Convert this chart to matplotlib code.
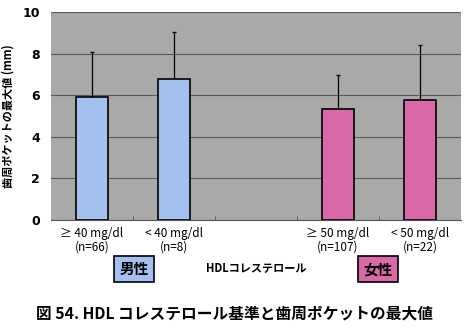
import matplotlib.pyplot as plt
import numpy as np

plt.rcParams['font.family'] = ['Noto Sans CJK JP', 'DejaVu Sans']

# HDL cholesterol groups (the middle slot separates men and women)
groups = ['≥ 40 mg/dl\n(n=66)', '< 40 mg/dl\n(n=8)', '',
          '≥ 50 mg/dl\n(n=107)', '< 50 mg/dl\n(n=22)']
means = [5.9, 6.76, np.nan, 5.32, 5.75]
sds = [2.19, 2.26, np.nan, 1.63, 2.68]
colors = ['#a3c0ee', '#a3c0ee', 'none', '#d96aa7', '#d96aa7']

fig = plt.figure(figsize=(4.75, 3.35), dpi=100)
ax = fig.add_axes([51 / 475, 1 - 220 / 335, 410 / 475, 208 / 335])
ax.set_facecolor('#a9aaa8')

x = np.arange(len(groups))
ax.bar(x, means, width=0.4, color=colors, edgecolor='black', linewidth=1.2, zorder=3)
# upper error bars only (lower cap sits under the bar top)
ax.errorbar(x, means, yerr=[np.zeros(len(sds)), sds], fmt='none',
            ecolor='black', elinewidth=0.9, capsize=1.5, capthick=1.0, zorder=2)

ax.set_xlim(-0.5, 4.5)
ax.set_ylim(0, 10)
ax.set_yticks([0, 2, 4, 6, 8, 10])
ax.set_yticklabels(['0', '2', '4', '6', '8', '10'], fontsize=9, fontweight='bold',
                   family=['DejaVu Sans'])
ax.yaxis.grid(True, color='#5a5a5a', linewidth=0.8, zorder=1)
ax.tick_params(axis='y', length=0, pad=8)
ax.set_xticks([0.5, 1.5, 2.5, 3.5], minor=True)
ax.set_xticks(x)
ax.set_xticklabels(groups, fontsize=8.5, linespacing=1.05)
ax.tick_params(axis='x', which='major', length=0, pad=5)
ax.tick_params(axis='x', which='minor', length=3, direction='in', color='#555555')
for s in ['top', 'right', 'left']:
    ax.spines[s].set_visible(False)
ax.spines['bottom'].set_color('#555555')

ax.set_ylabel('歯周ポケットの最大値 (mm)', fontsize=8, fontweight='bold', labelpad=6)

# sex boxes and group caption under the axis
fig.text(134 / 475, 1 - 269 / 335, '男性', fontsize=10.5, fontweight='bold',
         ha='center', va='center',
         bbox=dict(boxstyle='square,pad=0.35', facecolor='#a3c0ee', edgecolor='black', linewidth=1.2))
fig.text(378 / 475, 1 - 269 / 335, '女性', fontsize=10.5, fontweight='bold',
         ha='center', va='center',
         bbox=dict(boxstyle='square,pad=0.35', facecolor='#d96aa7', edgecolor='black', linewidth=1.2))
fig.text(256 / 475, 1 - 268 / 335, 'HDLコレステロール', fontsize=8, fontweight='bold',
         ha='center', va='center')

fig.text(234 / 475, 1 - 314 / 335, '図 54. HDL コレステロール基準と歯周ポケットの最大値',
         fontsize=11.3, fontweight='bold', ha='center', va='center')

fig.savefig('out.png', dpi=100)
